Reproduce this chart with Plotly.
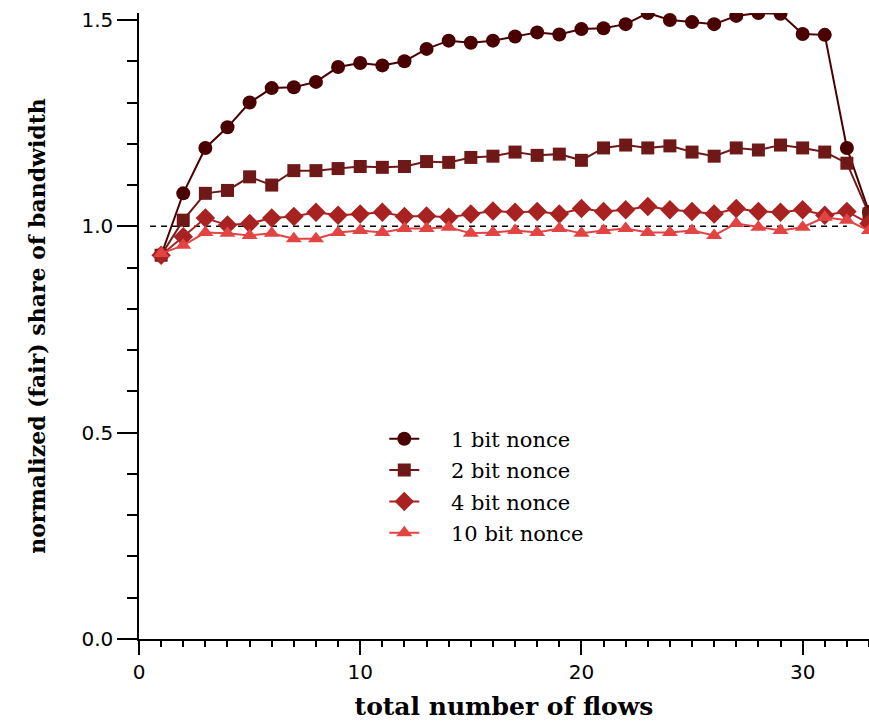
import plotly.graph_objects as go

flows = list(range(1, 34))

nonce_1bit = [0.93, 1.08, 1.19, 1.24, 1.30, 1.335, 1.337, 1.35, 1.386, 1.396, 1.39, 1.40, 1.43,
              1.45, 1.445, 1.45, 1.46, 1.47, 1.465, 1.478, 1.48, 1.49, 1.517, 1.50, 1.495, 1.49,
              1.51, 1.517, 1.515, 1.466, 1.464, 1.19, 1.035]
nonce_2bit = [0.93, 1.015, 1.08, 1.087, 1.12, 1.10, 1.135, 1.135, 1.14, 1.145, 1.143, 1.145, 1.157,
              1.155, 1.167, 1.17, 1.18, 1.172, 1.175, 1.16, 1.19, 1.197, 1.19, 1.195, 1.18, 1.17,
              1.19, 1.185, 1.197, 1.19, 1.18, 1.153, 1.03]
nonce_4bit = [0.93, 0.975, 1.02, 1.003, 1.007, 1.02, 1.024, 1.034, 1.027, 1.03, 1.034, 1.024, 1.025,
              1.022, 1.03, 1.037, 1.034, 1.036, 1.03, 1.043, 1.036, 1.04, 1.048, 1.04, 1.036, 1.03,
              1.043, 1.036, 1.034, 1.04, 1.027, 1.036, 1.007]
nonce_10bit = [0.934, 0.954, 0.985, 0.983, 0.978, 0.983, 0.97, 0.97, 0.985, 0.99, 0.985, 0.995, 0.995,
               0.998, 0.983, 0.985, 0.99, 0.985, 0.995, 0.983, 0.99, 0.995, 0.985, 0.985, 0.99, 0.978,
               1.007, 0.998, 0.99, 0.998, 1.022, 1.015, 0.99]

fair_x = [0.5, 32]
fair_y = [1.0, 1.0]

series = [
    ("1 bit nonce", nonce_1bit, "#4a0000", "circle", 14),
    ("2 bit nonce", nonce_2bit, "#6e1818", "square", 13),
    ("4 bit nonce", nonce_4bit, "#a82222", "diamond", 15),
    ("10 bit nonce", nonce_10bit, "#e24444", "triangle-up", 14),
]

PAD = "\u00a0" * 4

fig = go.Figure()
fig.add_trace(go.Scatter(x=fair_x, y=fair_y, mode="lines", showlegend=False,
                         line=dict(color="black", width=1.5, dash="6px,5px")))
for name, ys, color, sym, size in series:
    fig.add_trace(go.Scatter(x=flows, y=ys, mode="lines+markers", name=PAD + name, legendgroup=name,
                             line=dict(color=color, width=2),
                             marker=dict(symbol=sym, size=size, color=color)))

fig.update_layout(
    width=869, height=721,
    margin=dict(l=139, r=0, t=13, b=82, autoexpand=False),
    plot_bgcolor="white", paper_bgcolor="white",
    font=dict(family="DejaVu Serif", color="black"),
    legend=dict(x=0.336, y=0.352, xanchor="left", yanchor="top",
                bgcolor="rgba(0,0,0,0)", font=dict(size=21, family="DejaVu Serif"),
                tracegroupgap=1, itemwidth=30),
)
fig.update_xaxes(
    range=[0, 33], showgrid=False, zeroline=False, showline=True, linecolor="black", linewidth=1.5,
    tickmode="array", tickvals=[0, 10, 20, 30], ticks="outside", ticklen=14, tickwidth=1.5,
    tickcolor="black", tickfont=dict(size=20, family="DejaVu Sans"),
    minor=dict(dtick=1, ticks="outside", ticklen=6, tickwidth=1.5, tickcolor="black", showgrid=False),
    title=dict(text="<b>total number of flows</b>", font=dict(size=25, family="DejaVu Serif"), standoff=22),
)
fig.update_yaxes(
    range=[0, 1.517], showgrid=False, zeroline=False, showline=True, linecolor="black", linewidth=1.5,
    tickmode="array", tickvals=[0, 0.5, 1.0, 1.5], ticktext=["0.0", "0.5", "1.0", "1.5"],
    ticks="outside", ticklen=20, tickwidth=1.5, tickcolor="black",
    tickfont=dict(size=20, family="DejaVu Sans"),
    minor=dict(dtick=0.1, ticks="outside", ticklen=10, tickwidth=1.5, tickcolor="black", showgrid=False),
    title=dict(text="<b>normalized (fair) share of bandwidth</b>", font=dict(size=22, family="DejaVu Serif"), standoff=30),
)

fig.write_html("out.html", config={"displayModeBar": False},
               post_script="document.body.style.margin='0';")
